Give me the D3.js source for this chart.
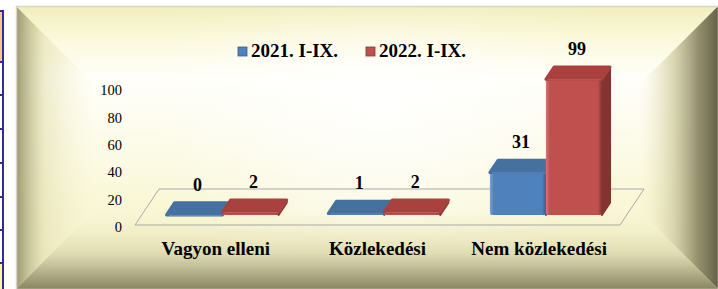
<!DOCTYPE html>
<html>
<head>
<meta charset="utf-8">
<script src="https://cdn.jsdelivr.net/npm/d3@7"></script>
<style>
  html, body { margin: 0; padding: 0; background: #ffffff; }
  svg { display: block; }
  svg text { font-family: 'Liberation Serif'; }
</style>
</head>
<body>
<svg id="chart" width="718" height="289"></svg>
<script>
// ---- data ----
const categories = ["Vagyon elleni", "Közlekedési", "Nem közlekedési"];
const seriesNames = ["2021. I-IX.", "2022. I-IX."];
const values2021 = [0, 1, 31];
const values2022 = [2, 2, 99];
const yTicks = [0, 20, 40, 60, 80, 100];

const svg = d3.select("#chart");
const FONT = "'Liberation Serif'";
const defs = svg.append("defs");

function linGrad(id, x1, y1, x2, y2, stops) {
  const g = defs.append("linearGradient").attr("id", id)
    .attr("gradientUnits", "userSpaceOnUse")
    .attr("x1", x1).attr("y1", y1).attr("x2", x2).attr("y2", y2);
  stops.forEach(s => g.append("stop").attr("offset", s[0]).attr("stop-color", s[1])
    .attr("stop-opacity", s.length > 2 ? s[2] : 1));
  return "url(#" + id + ")";
}

// ---- left strip (table fragment) ----
const strip = svg.append("g");
strip.append("rect").attr("x", 0).attr("y", 11).attr("width", 3).attr("height", 51).attr("fill", "#f9c48f");
strip.append("rect").attr("x", 0).attr("y", 263).attr("width", 3).attr("height", 26).attr("fill", "#fbf79a");
strip.append("rect").attr("x", 2).attr("y", 10).attr("width", 2).attr("height", 279).attr("fill", "#2e2f8e");
[11, 62, 95, 129, 163, 197, 230, 263].forEach(yy =>
  strip.append("rect").attr("x", 0).attr("y", yy - 1).attr("width", 4).attr("height", 2).attr("fill", "#2e2f8e"));

// ---- bevel frame ----
const L = 16, T = 6, R = 718, B = 289, ins = 80;
const iL = L + ins, iT = T + ins, iR = R - ins, iB = B - ins;
const frame = svg.append("g");
const poly = (pts, fill) => frame.append("polygon").attr("points", pts.map(p => p.join(",")).join(" ")).attr("fill", fill);

frame.append("rect").attr("x", L).attr("y", T).attr("width", R - L).attr("height", B - T)
  .attr("fill", linGrad("gFace", 0, T, 0, B, [["0", "#f4f0c2"], ["0.1", "#fbf9dc"], ["0.25", "#fffffa"], ["0.45", "#fdfcec"], ["0.7", "#f9f7d6"], ["1", "#f4f1c8"]]));
const rad = defs.append("radialGradient").attr("id", "glow")
  .attr("gradientUnits", "userSpaceOnUse").attr("cx", 380).attr("cy", 85).attr("r", 230);
rad.append("stop").attr("offset", "0").attr("stop-color", "#ffffff").attr("stop-opacity", 0.9);
rad.append("stop").attr("offset", "1").attr("stop-color", "#ffffff").attr("stop-opacity", 0);
frame.append("rect").attr("x", L).attr("y", T).attr("width", R - L).attr("height", B - T).attr("fill", "url(#glow)");

poly([[L, T], [iL, iT], [iL, iB], [L, B]],
  linGrad("gLeft", L, 0, iL, 0, [["0", "#9c976f", 1], ["0.12", "#b9b58a", 0.9], ["0.35", "#e2deaf", 0.6], ["1", "#f6f3cc", 0]]));
poly([[R, T], [R, B], [iR, iB], [iR, iT]],
  linGrad("gRight", R, 0, iR, 0, [["0", "#66624a", 1], ["0.25", "#94906e", 1], ["0.55", "#d0cca2", 0.8], ["1", "#f4f1c8", 0]]));
poly([[L, B], [R, B], [iR, iB], [iL, iB]],
  linGrad("gBottom", 0, B, 0, iB, [["0", "#8a8664", 1], ["0.2", "#b2ae88", 1], ["0.45", "#dad6ab", 0.8], ["0.75", "#eeebc4", 0.5], ["1", "#f6f3cf", 0]]));
poly([[L, T], [R, T], [iR, iT], [iL, iT]],
  linGrad("gTop", 0, T, 0, iT, [["0", "#f1edbe", 0.9], ["0.4", "#faf7d6", 0.5], ["1", "#ffffff", 0]]));
frame.append("rect").attr("x", L + 0.5).attr("y", T + 0.5).attr("width", R - L).attr("height", B - T)
  .attr("fill", "none").attr("stroke", "#d6d5c8").attr("stroke-width", 1.5);

// ---- chart scales ----
const floorFront = 225, depthDX = 24, depthDY = -36;
const x0 = d3.scaleBand().domain(categories).range([135, 620]).padding(0);
const x1 = d3.scaleBand().domain(seriesNames).range([0, x0.bandwidth()]).paddingInner(0).paddingOuter(0.444);
const y = d3.scaleLinear().domain([0, 100]).range([floorFront, floorFront - 137]);

// floor
const floorPts = [[135, floorFront], [620, floorFront], [620 + depthDX, floorFront + depthDY], [135 + depthDX, floorFront + depthDY]];
svg.append("polygon").attr("points", floorPts.map(p => p.join(",")).join(" "))
  .attr("fill", "none").attr("stroke", "#a9a9a9").attr("stroke-width", 1);

// y axis labels
const axisG = svg.append("g").attr("transform", "translate(122,2)")
  .call(d3.axisLeft(y).tickValues(yTicks).tickSize(0).tickPadding(0));
axisG.select(".domain").remove();
axisG.attr("font-family", null);
axisG.selectAll("text").style("font-family", FONT).style("font-size", "14.5px").attr("fill", "#000");

// bars
const dFront = 0.28, dBack = 0.62;
const offX = (dBack - dFront) * depthDX, offY = (dBack - dFront) * depthDY;
const colors = {
  "2021. I-IX.": { front: "#4f81bd", top: "#44719f", side: "#375d8c", hi: "#78a2d6" },
  "2022. I-IX.": { front: "#c0504d", top: "#a9423f", side: "#853331", hi: "#d97572" }
};
const rows = [];
categories.forEach((cat, ci) => {
  seriesNames.forEach((s, si) => {
    rows.push({ cat, s, si, v: si === 0 ? values2021[ci] : values2022[ci] });
  });
});
const barsG = svg.append("g");
const P = pts => pts.map(p => p.join(",")).join(" ");
rows.forEach((d, k) => {
  const c = colors[d.s];
  const w = x1.bandwidth();
  const fx = x0(d.cat) + x1(d.s) + dFront * depthDX;
  const fyB = y(0) + dFront * depthDY;
  const h = y(0) - y(d.v);
  const fyT = fyB - h;
  const g = barsG.append("g");
  const gid = "fg" + k;
  linGrad(gid, fx, 0, fx + w, 0, [["0", c.hi], ["0.07", c.front], ["0.93", c.front], ["1", c.side]]);
  g.append("polygon").attr("points", P([[fx + w, fyT], [fx + w + offX, fyT + offY], [fx + w + offX, fyB + offY], [fx + w, fyB]]))
    .attr("fill", c.side).attr("stroke", c.side).attr("stroke-width", 2).attr("stroke-linejoin", "round");
  if (h > 0) {
    g.append("rect").attr("x", fx).attr("y", fyT).attr("width", w).attr("height", h)
      .attr("fill", "url(#" + gid + ")").attr("rx", 2);
  }
  g.append("polygon").attr("points", P([[fx, fyT], [fx + w, fyT], [fx + w + offX, fyT + offY], [fx + offX, fyT + offY]]))
    .attr("fill", c.top).attr("stroke", c.top).attr("stroke-width", 3).attr("stroke-linejoin", "round");
  g.append("line").attr("x1", fx + 2).attr("x2", fx + w - 1).attr("y1", fyT + 0.5).attr("y2", fyT + 0.5)
    .attr("stroke", c.hi).attr("stroke-width", 1).attr("opacity", 0.6);
  svg.append("text").attr("x", fx + w / 2 + 3).attr("y", fyT + offY - 12)
    .attr("text-anchor", "middle").style("font-family", FONT).style("font-weight", "bold")
    .style("font-size", "18px").attr("fill", "#000").text(d.v);
});

// category labels
svg.append("g").selectAll("text").data(categories).join("text")
  .attr("x", d => x0(d) + x0.bandwidth() / 2).attr("y", 255)
  .attr("text-anchor", "middle").style("font-family", FONT).style("font-weight", "bold")
  .style("font-size", "19px").attr("fill", "#000").text(d => d);

// legend
const legendX = [238, 366];
const leg = svg.append("g");
seriesNames.forEach((s, i) => {
  const c = colors[s];
  leg.append("rect").attr("x", legendX[i]).attr("y", 47).attr("width", 9).attr("height", 9)
    .attr("fill", c.front).attr("stroke", c.side).attr("stroke-width", 0.8);
  leg.append("text").attr("x", legendX[i] + 13).attr("y", 57)
    .style("font-family", FONT).style("font-weight", "bold").style("font-size", "19px")
    .attr("fill", "#000").text(s);
});
</script>
</body>
</html>
